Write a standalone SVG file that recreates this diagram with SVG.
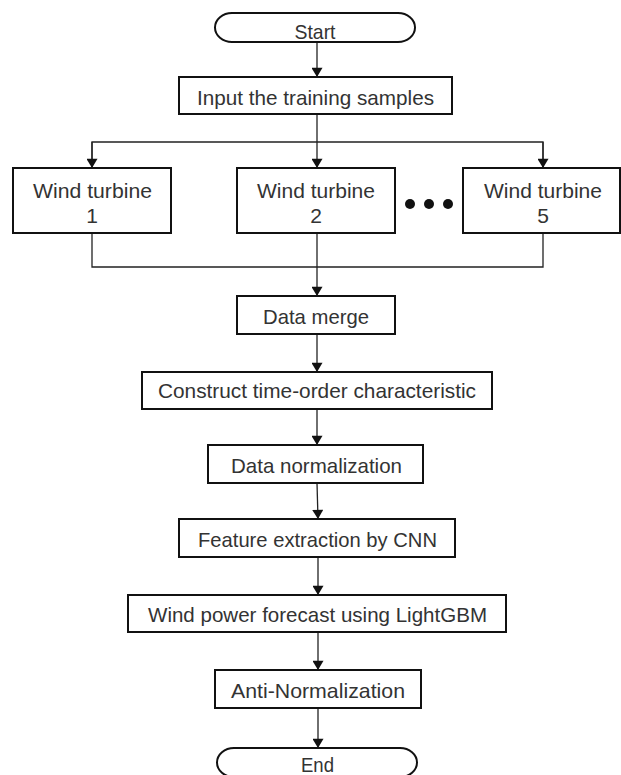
<svg xmlns="http://www.w3.org/2000/svg" width="621" height="775" viewBox="0 0 621 775">
<style>
.box{fill:#fff;stroke:#111;stroke-width:2}
.t{font-family:"Liberation Sans",Arial,sans-serif;font-size:21px;fill:#333;text-anchor:middle}
.c{fill:none;stroke:#222;stroke-width:1.3}
</style>
<defs>
<marker id="ah" viewBox="0 0 10 12" refX="10" refY="6" markerWidth="12" markerHeight="11" markerUnits="userSpaceOnUse" orient="auto">
<path d="M0,0 L10,6 L0,12 Z" fill="#111"/>
</marker>
</defs>
<rect width="621" height="775" fill="#fff"/>
<g id="connectors">
<line class="c" x1="317" y1="42" x2="317" y2="77" marker-end="url(#ah)"/>
<line class="c" x1="317" y1="114" x2="317" y2="168" marker-end="url(#ah)"/>
<polyline class="c" points="92,168 92,142 543,142 543,168"/>
<line class="c" x1="92" y1="142" x2="92" y2="168" marker-end="url(#ah)"/>
<line class="c" x1="543" y1="142" x2="543" y2="168" marker-end="url(#ah)"/>
<polyline class="c" points="92,233 92,267 543,267 543,233"/>
<line class="c" x1="317" y1="233" x2="317" y2="296" marker-end="url(#ah)"/>
<line class="c" x1="317" y1="334" x2="317" y2="372" marker-end="url(#ah)"/>
<line class="c" x1="317" y1="409" x2="317" y2="445" marker-end="url(#ah)"/>
<line class="c" x1="317" y1="483" x2="318" y2="519" marker-end="url(#ah)"/>
<line class="c" x1="318" y1="557" x2="318" y2="595" marker-end="url(#ah)"/>
<line class="c" x1="318" y1="632" x2="318" y2="670" marker-end="url(#ah)"/>
<line class="c" x1="318" y1="708" x2="318" y2="748" marker-end="url(#ah)"/>
</g>
<g id="start">
<rect class="box" x="215" y="13" width="200" height="29" rx="17" ry="14.5"/>
<text class="t" x="315" y="38.5" textLength="41" lengthAdjust="spacingAndGlyphs">Start</text>
</g>
<g id="input">
<rect class="box" x="179" y="77" width="273" height="37"/>
<text class="t" x="315.5" y="105" textLength="237" lengthAdjust="spacingAndGlyphs">Input the training samples</text>
</g>
<g id="wt1">
<rect class="box" x="13" y="168" width="158" height="65"/>
<text class="t" x="92.5" y="198" textLength="119" lengthAdjust="spacingAndGlyphs">Wind turbine</text>
<text class="t" x="92" y="223">1</text>
</g>
<g id="wt2">
<rect class="box" x="237" y="168" width="158" height="65"/>
<text class="t" x="316" y="198" textLength="118" lengthAdjust="spacingAndGlyphs">Wind turbine</text>
<text class="t" x="316" y="223">2</text>
</g>
<g id="dots">
<circle cx="410" cy="204" r="5" fill="#111"/>
<circle cx="429" cy="204" r="5" fill="#111"/>
<circle cx="448" cy="204" r="5" fill="#111"/>
</g>
<g id="wt5">
<rect class="box" x="463" y="168" width="157" height="65"/>
<text class="t" x="543" y="198" textLength="118" lengthAdjust="spacingAndGlyphs">Wind turbine</text>
<text class="t" x="543" y="223">5</text>
</g>
<g id="merge">
<rect class="box" x="237" y="296" width="158" height="38"/>
<text class="t" x="316" y="324" textLength="106" lengthAdjust="spacingAndGlyphs">Data merge</text>
</g>
<g id="construct">
<rect class="box" x="142" y="372" width="350" height="37"/>
<text class="t" x="317" y="398" textLength="318" lengthAdjust="spacingAndGlyphs">Construct time-order characteristic</text>
</g>
<g id="normalization">
<rect class="box" x="208" y="445" width="215" height="38"/>
<text class="t" x="316.5" y="473" textLength="171" lengthAdjust="spacingAndGlyphs">Data normalization</text>
</g>
<g id="feature">
<rect class="box" x="179" y="519" width="276" height="38"/>
<text class="t" x="317.5" y="547" textLength="239" lengthAdjust="spacingAndGlyphs">Feature extraction by CNN</text>
</g>
<g id="forecast">
<rect class="box" x="128" y="595" width="378" height="37"/>
<text class="t" x="317.5" y="622" textLength="339" lengthAdjust="spacingAndGlyphs">Wind power forecast using LightGBM</text>
</g>
<g id="anti">
<rect class="box" x="215" y="670" width="206" height="38"/>
<text class="t" x="318" y="698" textLength="174" lengthAdjust="spacingAndGlyphs">Anti-Normalization</text>
</g>
<g id="end">
<rect class="box" x="217" y="748" width="200" height="29" rx="17" ry="14.5"/>
<text class="t" x="317.5" y="772" textLength="33" lengthAdjust="spacingAndGlyphs">End</text>
</g>
</svg>
